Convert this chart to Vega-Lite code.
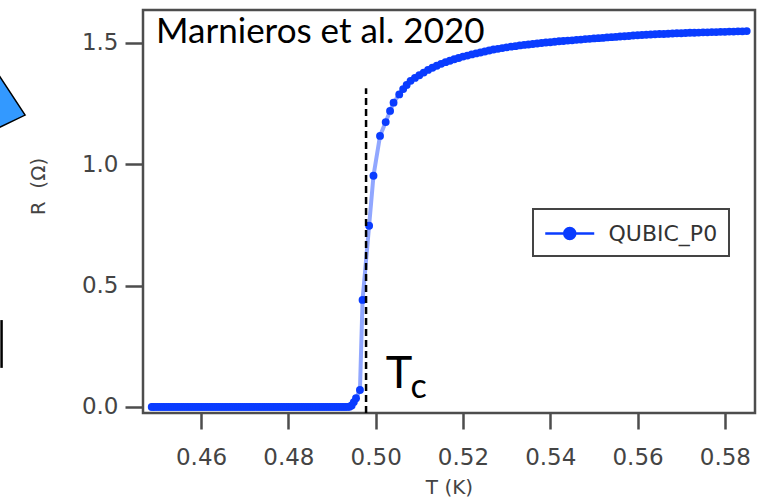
{
  "$schema": "https://vega.github.io/schema/vega-lite/v6.json",
  "width": 612,
  "height": 403,
  "autosize": {"type": "none"},
  "padding": {"left": 143, "top": 10, "right": 15, "bottom": 87},
  "background": "white",
  "datasets": {
    "curve": [
      {"T": 0.4487, "R": 0.0}, {"T": 0.449, "R": 0.0}, {"T": 0.4495, "R": 0.0}, {"T": 0.450, "R": 0.0}, {"T": 0.4505, "R": 0.0},
      {"T": 0.451, "R": 0.0}, {"T": 0.4515, "R": 0.0}, {"T": 0.452, "R": 0.0}, {"T": 0.4525, "R": 0.0}, {"T": 0.453, "R": 0.0},
      {"T": 0.4535, "R": 0.0}, {"T": 0.454, "R": 0.0}, {"T": 0.4545, "R": 0.0}, {"T": 0.455, "R": 0.0}, {"T": 0.4555, "R": 0.0},
      {"T": 0.456, "R": 0.0}, {"T": 0.4565, "R": 0.0}, {"T": 0.457, "R": 0.0}, {"T": 0.4575, "R": 0.0}, {"T": 0.458, "R": 0.0},
      {"T": 0.4585, "R": 0.0}, {"T": 0.459, "R": 0.0}, {"T": 0.4595, "R": 0.0}, {"T": 0.460, "R": 0.0}, {"T": 0.4605, "R": 0.0},
      {"T": 0.461, "R": 0.0}, {"T": 0.4615, "R": 0.0}, {"T": 0.462, "R": 0.0}, {"T": 0.4625, "R": 0.0}, {"T": 0.463, "R": 0.0},
      {"T": 0.4635, "R": 0.0}, {"T": 0.464, "R": 0.0}, {"T": 0.4645, "R": 0.0}, {"T": 0.465, "R": 0.0}, {"T": 0.4655, "R": 0.0},
      {"T": 0.466, "R": 0.0}, {"T": 0.4665, "R": 0.0}, {"T": 0.467, "R": 0.0}, {"T": 0.4675, "R": 0.0}, {"T": 0.468, "R": 0.0},
      {"T": 0.4685, "R": 0.0}, {"T": 0.469, "R": 0.0}, {"T": 0.4695, "R": 0.0}, {"T": 0.470, "R": 0.0}, {"T": 0.4705, "R": 0.0},
      {"T": 0.471, "R": 0.0}, {"T": 0.4715, "R": 0.0}, {"T": 0.472, "R": 0.0}, {"T": 0.4725, "R": 0.0}, {"T": 0.473, "R": 0.0},
      {"T": 0.4735, "R": 0.0}, {"T": 0.474, "R": 0.0}, {"T": 0.4745, "R": 0.0}, {"T": 0.475, "R": 0.0}, {"T": 0.4755, "R": 0.0},
      {"T": 0.476, "R": 0.0}, {"T": 0.4765, "R": 0.0}, {"T": 0.477, "R": 0.0}, {"T": 0.4775, "R": 0.0}, {"T": 0.478, "R": 0.0},
      {"T": 0.4785, "R": 0.0}, {"T": 0.479, "R": 0.0}, {"T": 0.4795, "R": 0.0}, {"T": 0.480, "R": 0.0}, {"T": 0.4805, "R": 0.0},
      {"T": 0.481, "R": 0.0}, {"T": 0.4815, "R": 0.0}, {"T": 0.482, "R": 0.0}, {"T": 0.4825, "R": 0.0}, {"T": 0.483, "R": 0.0},
      {"T": 0.4835, "R": 0.0}, {"T": 0.484, "R": 0.0}, {"T": 0.4845, "R": 0.0}, {"T": 0.485, "R": 0.0}, {"T": 0.4855, "R": 0.0},
      {"T": 0.486, "R": 0.0}, {"T": 0.4865, "R": 0.0}, {"T": 0.487, "R": 0.0}, {"T": 0.4875, "R": 0.0}, {"T": 0.488, "R": 0.0},
      {"T": 0.4885, "R": 0.0}, {"T": 0.489, "R": 0.0}, {"T": 0.4895, "R": 0.0}, {"T": 0.490, "R": 0.0}, {"T": 0.4905, "R": 0.0},
      {"T": 0.491, "R": 0.0}, {"T": 0.4915, "R": 0.0}, {"T": 0.492, "R": 0.0}, {"T": 0.4925, "R": 0.0}, {"T": 0.493, "R": 0.0},
      {"T": 0.4935, "R": 0.0}, {"T": 0.494, "R": 0.001}, {"T": 0.4945, "R": 0.006}, {"T": 0.4950, "R": 0.02},
      {"T": 0.4955, "R": 0.036}, {"T": 0.4964, "R": 0.070}, {"T": 0.4970, "R": 0.441}, {"T": 0.4985, "R": 0.747},
      {"T": 0.4995, "R": 0.953}, {"T": 0.5010, "R": 1.117}, {"T": 0.5023, "R": 1.174}, {"T": 0.5033, "R": 1.220},
      {"T": 0.5041, "R": 1.254}, {"T": 0.5054, "R": 1.288}, {"T": 0.5063, "R": 1.310}, {"T": 0.5071, "R": 1.327},
      {"T": 0.508, "R": 1.344}, {"T": 0.509, "R": 1.356}, {"T": 0.510, "R": 1.367}, {"T": 0.511, "R": 1.378},
      {"T": 0.512, "R": 1.389}, {"T": 0.513, "R": 1.398}, {"T": 0.514, "R": 1.406}, {"T": 0.515, "R": 1.414},
      {"T": 0.516, "R": 1.421}, {"T": 0.517, "R": 1.427}, {"T": 0.518, "R": 1.433}, {"T": 0.519, "R": 1.438},
      {"T": 0.520, "R": 1.444}, {"T": 0.521, "R": 1.448}, {"T": 0.522, "R": 1.453}, {"T": 0.523, "R": 1.457},
      {"T": 0.524, "R": 1.461}, {"T": 0.525, "R": 1.465}, {"T": 0.526, "R": 1.469}, {"T": 0.527, "R": 1.473},
      {"T": 0.528, "R": 1.476}, {"T": 0.529, "R": 1.479}, {"T": 0.530, "R": 1.482}, {"T": 0.531, "R": 1.485},
      {"T": 0.532, "R": 1.487}, {"T": 0.533, "R": 1.490}, {"T": 0.534, "R": 1.492}, {"T": 0.535, "R": 1.494},
      {"T": 0.536, "R": 1.496}, {"T": 0.537, "R": 1.498}, {"T": 0.538, "R": 1.500}, {"T": 0.539, "R": 1.502},
      {"T": 0.540, "R": 1.503}, {"T": 0.541, "R": 1.505}, {"T": 0.542, "R": 1.507}, {"T": 0.543, "R": 1.508},
      {"T": 0.544, "R": 1.510}, {"T": 0.545, "R": 1.511}, {"T": 0.546, "R": 1.513}, {"T": 0.547, "R": 1.514},
      {"T": 0.548, "R": 1.516}, {"T": 0.549, "R": 1.517}, {"T": 0.550, "R": 1.519}, {"T": 0.551, "R": 1.520},
      {"T": 0.552, "R": 1.521}, {"T": 0.553, "R": 1.523}, {"T": 0.554, "R": 1.524}, {"T": 0.555, "R": 1.525},
      {"T": 0.556, "R": 1.527}, {"T": 0.557, "R": 1.528}, {"T": 0.558, "R": 1.529}, {"T": 0.559, "R": 1.531},
      {"T": 0.560, "R": 1.532}, {"T": 0.561, "R": 1.533}, {"T": 0.562, "R": 1.534}, {"T": 0.563, "R": 1.535},
      {"T": 0.564, "R": 1.536}, {"T": 0.565, "R": 1.537}, {"T": 0.566, "R": 1.537}, {"T": 0.567, "R": 1.538},
      {"T": 0.568, "R": 1.539}, {"T": 0.569, "R": 1.540}, {"T": 0.570, "R": 1.540}, {"T": 0.571, "R": 1.541},
      {"T": 0.572, "R": 1.542}, {"T": 0.573, "R": 1.542}, {"T": 0.574, "R": 1.543}, {"T": 0.575, "R": 1.544},
      {"T": 0.576, "R": 1.544}, {"T": 0.577, "R": 1.545}, {"T": 0.578, "R": 1.545}, {"T": 0.579, "R": 1.546},
      {"T": 0.580, "R": 1.546}, {"T": 0.581, "R": 1.547}, {"T": 0.582, "R": 1.547}, {"T": 0.583, "R": 1.548},
      {"T": 0.584, "R": 1.548}, {"T": 0.585, "R": 1.549}
    ]
  },
  "encoding": {
    "x": {
      "field": "T", "type": "quantitative",
      "scale": {"domain": [0.4467, 0.5869], "nice": false, "zero": false},
      "axis": {
        "values": [0.46, 0.48, 0.5, 0.52, 0.54, 0.56, 0.58], "format": ".2f",
        "tickSize": 16, "labelPadding": 17,
        "title": "T (K)", "titleY": 80, "titleBaseline": "alphabetic"
      }
    },
    "y": {
      "field": "R", "type": "quantitative",
      "scale": {"domain": [-0.025, 1.636], "nice": false, "zero": false},
      "axis": {
        "values": [0, 0.5, 1, 1.5], "format": ".1f",
        "tickSize": 18, "labelPadding": 7,
        "title": "R\u00a0\u00a0(Ω)", "titleX": -105, "titleY": 176,
        "titleAngle": -90, "titleAlign": "center", "titleBaseline": "middle"
      }
    }
  },
  "layer": [
    {
      "data": {"name": "curve"},
      "mark": {"type": "line", "color": "#0a3cff", "opacity": 0.45, "strokeWidth": 4},
      "encoding": {}
    },
    {
      "data": {"name": "curve"},
      "mark": {"type": "point", "filled": true, "size": 62, "opacity": 1},
      "encoding": {
        "color": {
          "datum": "QUBIC_P0", "type": "nominal",
          "scale": {"range": ["#0a3cff"]},
          "legend": {
            "title": null, "orient": "none", "legendX": 390, "legendY": 199,
            "padding": 11, "fillColor": "white", "strokeColor": "#444",
            "symbolType": "M-1,0L3,0M1.45,0A0.45,0.45,0,1,1,0.55,0A0.45,0.45,0,1,1,1.45,0Z",
            "symbolSize": 600, "symbolOpacity": 1,
            "labelOffset": 37.5, "labelFont": "DejaVu Sans", "labelFontSize": 22, "labelColor": "#333",
            "encode": {
              "legend": {"update": {"strokeWidth": {"value": 2}}},
              "symbols": {"update": {"stroke": {"value": "#0a3cff"}, "strokeWidth": {"value": 2.5}, "fill": {"value": "#0a3cff"}}}
            }
          }
        }
      }
    },
    {
      "data": {"values": [{"T": 0.4978, "R": -0.025, "R2": 1.314}]},
      "mark": {"type": "rule", "color": "black", "strokeWidth": 2.5, "strokeDash": [7, 4]},
      "encoding": {"y2": {"field": "R2"}}
    },
    {
      "data": {"values": [{"T": 0.4497, "R": 1.4998, "label": "Marnieros et al. 2020"}]},
      "mark": {"type": "text", "font": "Lato", "fontSize": 35, "align": "left", "baseline": "alphabetic", "color": "black"},
      "encoding": {"text": {"field": "label"}}
    },
    {
      "data": {"values": [{"T": 0.5023, "R": 0.0783, "label": "T"}]},
      "mark": {"type": "text", "font": "Lato", "fontSize": 45, "align": "left", "baseline": "alphabetic", "color": "black"},
      "encoding": {"text": {"field": "label"}}
    },
    {
      "data": {"values": [{"T": 0.5080, "R": 0.0371, "label": "c"}]},
      "mark": {"type": "text", "font": "Lato", "fontSize": 34, "align": "left", "baseline": "alphabetic", "color": "black"},
      "encoding": {"text": {"field": "label"}}
    },
    {
      "data": {"values": [{"T": 0.4197, "R": 1.203}]},
      "mark": {"type": "point", "filled": true, "shape": "M0,0L-5,-7.6L-6,2.9Z", "size": 400, "fill": "#3399ff", "stroke": "black", "strokeWidth": 1.5, "opacity": 1, "fillOpacity": 1, "strokeOpacity": 1},
      "encoding": {}
    },
    {
      "data": {"values": [{"T": 0.4143, "R": 0.161, "R2": 0.358}]},
      "mark": {"type": "rule", "color": "black", "strokeWidth": 2.5},
      "encoding": {"y2": {"field": "R2"}}
    }
  ],
  "config": {
    "view": {"stroke": "#4d4d4d", "strokeWidth": 2.5},
    "axis": {
      "domain": false, "grid": false,
      "tickColor": "#4d4d4d", "tickWidth": 2.5,
      "labelFont": "DejaVu Sans", "labelFontSize": 23, "labelColor": "#444",
      "titleFont": "DejaVu Sans", "titleFontSize": 20, "titleColor": "#444", "titleFontWeight": "normal"
    }
  }
}
